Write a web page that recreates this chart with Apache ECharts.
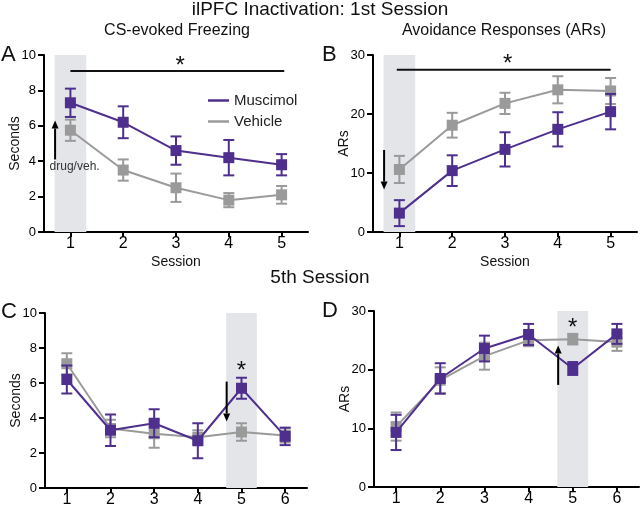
<!DOCTYPE html>
<html><head><meta charset="utf-8">
<script src="https://cdn.jsdelivr.net/npm/echarts@6/dist/echarts.min.js"></script>
<style>html,body{margin:0;padding:0;background:#fff}#c{width:640px;height:508px}</style>
</head><body><div id="c"></div>
<script>
// ---------- data ----------
const sessionsAB = [1, 2, 3, 4, 5];
const sessionsCD = [1, 2, 3, 4, 5, 6];
const yTicksSec = [0, 2, 4, 6, 8, 10];
const yTicksAR = [0, 10, 20, 30];

// A: CS-evoked freezing (seconds), 1st-session inactivation
const freezeMus = [7.3, 6.2, 4.6, 4.2, 3.8];
const freezeMusSem = [0.8, 0.9, 0.8, 1.0, 0.6];
const freezeVeh = [5.75, 3.5, 2.5, 1.8, 2.1];
const freezeVehSem = [0.6, 0.6, 0.8, 0.4, 0.5];
// B: avoidance responses
const arMus = [3.2, 10.4, 14.0, 17.4, 20.4];
const arMusSem = [2.2, 2.6, 2.9, 2.9, 3.0];
const arVeh = [10.6, 18.1, 21.8, 24.1, 23.9];
const arVehSem = [2.3, 2.1, 1.8, 2.3, 2.2];
// C: freezing, 5th-session inactivation
const freeze5Mus = [6.2, 3.3, 3.7, 2.7, 5.7, 2.95];
const freeze5MusSem = [0.8, 0.9, 0.8, 1.0, 0.6, 0.5];
const freeze5Veh = [7.1, 3.4, 3.1, 2.9, 3.2, 3.0];
const freeze5VehSem = [0.6, 0.5, 0.8, 0.4, 0.5, 0.4];
// D: avoidance, 5th-session inactivation
const ar5Mus = [9.3, 18.5, 23.6, 26.0, 20.2, 26.1];
const ar5MusSem = [3.0, 2.6, 2.2, 1.8, 1.1, 1.7];
const ar5Veh = [10.3, 18.2, 22.3, 25.0, 25.2, 24.7];
const ar5VehSem = [2.4, 2.2, 2.3, 1.0, 0.9, 1.5];

// annotations (data units)
const infusionBandAB = [0.7, 1.3];
const infusionBandCD = [4.65, 5.35];
const sigLineA = [1, 5.05, 9.1];
const sigLineB = [0.95, 5.0, 27.5];
const starA = [3.08, 9.62];
const starB = [3.05, 29.2];
const starC = [5.0, 6.93];
const starD = [5.0, 27.9];
const arrowA = [0.71, 4.1, 6.3];
const arrowB = [0.71, 13.9, 7.2];
const arrowC = [4.66, 6.08, 3.8];
const arrowD = [4.67, 17.4, 24.1];
const drugLabelA = [1.08, 3.69, 'drug/veh.'];

// ---------- styling ----------
const FONT = '"Liberation Sans", Arial, Helvetica, sans-serif';
const PURPLE = '#4f2f8e';
const GRAY = '#9a9a9a';
const BAND = '#e3e5e8';

const panels = [
  { x: sessionsAB, mus: freezeMus, musSem: freezeMusSem, veh: freezeVeh, vehSem: freezeVehSem,
    yTicks: yTicksSec, yname: 'Seconds', xname: 'Session', band: infusionBandAB,
    sig: sigLineA, star: starA, arrow: arrowA,
    grid: { left: 44, top: 55, width: 264, height: 177 } },
  { x: sessionsAB, mus: arMus, musSem: arMusSem, veh: arVeh, vehSem: arVehSem,
    yTicks: yTicksAR, yname: 'ARs', xname: 'Session', band: infusionBandAB,
    sig: sigLineB, star: starB, arrow: arrowB,
    grid: { left: 373, top: 55, width: 264, height: 177 } },
  { x: sessionsCD, mus: freeze5Mus, musSem: freeze5MusSem, veh: freeze5Veh, vehSem: freeze5VehSem,
    yTicks: yTicksSec, yname: 'Seconds', xname: '', band: infusionBandCD,
    sig: null, star: starC, arrow: arrowC,
    grid: { left: 45, top: 313, width: 262, height: 176 } },
  { x: sessionsCD, mus: ar5Mus, musSem: ar5MusSem, veh: ar5Veh, vehSem: ar5VehSem,
    yTicks: yTicksAR, yname: 'ARs', xname: '', band: infusionBandCD,
    sig: null, star: starD, arrow: arrowD,
    grid: { left: 374, top: 311, width: 265, height: 176 } }
];

function errRender(color) {
  return function (params, api) {
    const x = api.value(0), lo = api.value(1), hi = api.value(2);
    const a = api.coord([x, lo]), b = api.coord([x, hi]);
    const w = 5.5;
    const st = { stroke: color, lineWidth: 2 };
    return { type: 'group', children: [
      { type: 'line', shape: { x1: a[0], y1: a[1], x2: b[0], y2: b[1] }, style: st },
      { type: 'line', shape: { x1: a[0] - w, y1: a[1], x2: a[0] + w, y2: a[1] }, style: st },
      { type: 'line', shape: { x1: b[0] - w, y1: b[1], x2: b[0] + w, y2: b[1] }, style: st }
    ]};
  };
}

const grids = [], xAxes = [], yAxes = [], series = [];
panels.forEach((p, i) => {
  grids.push(p.grid);
  const xmax = p.x[p.x.length - 1] + 0.5;
  const ymax = p.yTicks[p.yTicks.length - 1];
  const yint = p.yTicks[1] - p.yTicks[0];
  xAxes.push({
    gridIndex: i, type: 'value', min: 0.5, max: xmax,
    name: p.xname, nameLocation: 'middle', nameGap: 23, nameMoveOverlap: false,
    nameTextStyle: { fontFamily: FONT, fontSize: 14, color: '#111' },
    axisLine: { lineStyle: { color: '#000', width: 2 } },
    axisTick: { customValues: p.x, length: 5, lineStyle: { color: '#000', width: 2 } },
    axisLabel: { customValues: p.x, margin: 4, fontFamily: FONT, fontSize: 16, color: '#000',
                 formatter: v => String(v) },
    splitLine: { show: false }
  });
  yAxes.push({
    gridIndex: i, type: 'value', min: 0, max: ymax, interval: yint,
    name: p.yname, nameLocation: 'middle', nameGap: 22, nameRotate: 90, nameMoveOverlap: false,
    nameTextStyle: { fontFamily: FONT, fontSize: 14, color: '#111' },
    axisLine: { show: true, lineStyle: { color: '#000', width: 2 } },
    axisTick: { show: true, length: 6, lineStyle: { color: '#000', width: 2 } },
    axisLabel: { margin: 8, fontFamily: FONT, fontSize: 13, color: '#000' },
    splitLine: { show: false }
  });
  // infusion band
  series.push({
    type: 'custom', xAxisIndex: i, yAxisIndex: i, z: 1, silent: true,
    data: [[p.band[0], p.band[1], ymax]],
    renderItem: (params, api) => {
      const a = api.coord([api.value(0), api.value(2)]);
      const b = api.coord([api.value(1), 0]);
      return { type: 'rect', shape: { x: a[0], y: a[1], width: b[0] - a[0], height: b[1] - a[1] },
               style: { fill: BAND } };
    }
  });
  // error bars
  series.push({
    type: 'custom', xAxisIndex: i, yAxisIndex: i, z: 2, silent: true,
    data: p.x.map((s, k) => [s, p.veh[k] - p.vehSem[k], p.veh[k] + p.vehSem[k]]),
    renderItem: errRender(GRAY)
  });
  series.push({
    type: 'line', name: 'Vehicle', xAxisIndex: i, yAxisIndex: i, z: 3,
    data: p.x.map((s, k) => [s, p.veh[k]]),
    symbol: 'rect', symbolSize: 11, showSymbol: true,
    lineStyle: { color: GRAY, width: 2 }, itemStyle: { color: GRAY }
  });
  series.push({
    type: 'custom', xAxisIndex: i, yAxisIndex: i, z: 4, silent: true,
    data: p.x.map((s, k) => [s, p.mus[k] - p.musSem[k], p.mus[k] + p.musSem[k]]),
    renderItem: errRender(PURPLE)
  });
  series.push({
    type: 'line', name: 'Muscimol', xAxisIndex: i, yAxisIndex: i, z: 5,
    data: p.x.map((s, k) => [s, p.mus[k]]),
    symbol: 'rect', symbolSize: 11, showSymbol: true,
    lineStyle: { color: PURPLE, width: 2 }, itemStyle: { color: PURPLE }
  });
  // significance bar
  if (p.sig) {
    series.push({
      type: 'custom', xAxisIndex: i, yAxisIndex: i, z: 6, silent: true,
      data: [p.sig],
      renderItem: (params, api) => {
        const a = api.coord([api.value(0), api.value(2)]);
        const b = api.coord([api.value(1), api.value(2)]);
        return { type: 'line', shape: { x1: a[0], y1: a[1], x2: b[0], y2: b[1] },
                 style: { stroke: '#111', lineWidth: 2 } };
      }
    });
  }
  // star
  series.push({
    type: 'custom', xAxisIndex: i, yAxisIndex: i, z: 6, silent: true,
    data: [p.star],
    renderItem: (params, api) => {
      const c = api.coord([api.value(0), api.value(1)]);
      return { type: 'text', x: c[0], y: c[1] + 5,
               style: { text: '*', fontFamily: FONT, fontSize: 24, fill: '#111',
                        align: 'center', verticalAlign: 'middle' } };
    }
  });
  // arrow
  series.push({
    type: 'custom', xAxisIndex: i, yAxisIndex: i, z: 6, silent: true,
    data: [p.arrow],
    renderItem: (params, api) => {
      const s = api.coord([api.value(0), api.value(1)]);
      const t = api.coord([api.value(0), api.value(2)]);
      const dir = t[1] < s[1] ? -1 : 1;
      const hl = 8, hw = 3.5;
      return { type: 'group', children: [
        { type: 'line', shape: { x1: s[0], y1: s[1], x2: t[0], y2: t[1] - dir * hl },
          style: { stroke: '#000', lineWidth: 2 } },
        { type: 'polygon', shape: { points: [[t[0], t[1]], [t[0] - hw, t[1] - dir * hl], [t[0] + hw, t[1] - dir * hl]] },
          style: { fill: '#000' } }
      ]};
    }
  });
});

// drug/veh. label
series.push({
  type: 'custom', xAxisIndex: 0, yAxisIndex: 0, z: 6, silent: true,
  data: [drugLabelA],
  renderItem: (params, api) => {
    const c = api.coord([api.value(0), api.value(1)]);
    return { type: 'text', x: c[0], y: c[1],
             style: { text: drugLabelA[2], fontFamily: FONT, fontSize: 12, fill: '#333',
                      align: 'center', verticalAlign: 'middle' } };
  }
});

const txt = (x, y, text, size, align) => ({
  type: 'text', x: x, y: y,
  style: { text: text, fontFamily: FONT, fontSize: size, fill: '#111',
           align: align || 'center', verticalAlign: 'middle' }
});

const option = {
  animation: false,
  backgroundColor: '#fff',
  grid: grids, xAxis: xAxes, yAxis: yAxes, series: series,
  legend: {
    orient: 'vertical', left: 203, top: 88, itemGap: 6,
    itemWidth: 21, itemHeight: 2.5,
    data: [{ name: 'Muscimol', icon: 'rect' }, { name: 'Vehicle', icon: 'rect' }],
    textStyle: { fontFamily: FONT, fontSize: 15, color: '#222', padding: [0, 0, 0, 0] }
  },
  graphic: [
    txt(320, 10, 'ilPFC Inactivation: 1st Session', 19),
    txt(177, 31, 'CS-evoked Freezing', 16),
    txt(504, 31, 'Avoidance Responses (ARs)', 16),
    txt(320, 278, '5th Session', 19),
    txt(1, 55, 'A', 22, 'left'),
    txt(322, 55, 'B', 22, 'left'),
    txt(1, 312, 'C', 22, 'left'),
    txt(322, 311, 'D', 22, 'left')
  ]
};
const chart = echarts.init(document.getElementById('c'));
chart.setOption(option);
</script>
</body></html>
